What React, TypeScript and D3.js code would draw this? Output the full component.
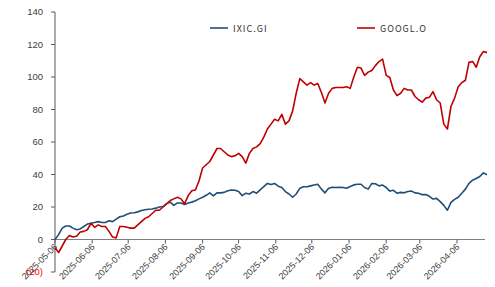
import React from "react";
import * as d3 from "d3";

const dates: string[] = [
  "2025-05-06","2025-05-09","2025-05-12","2025-05-15","2025-05-18","2025-05-21","2025-05-24","2025-05-27","2025-05-30","2025-06-02",
  "2025-06-05","2025-06-08","2025-06-11","2025-06-14","2025-06-17","2025-06-20","2025-06-23","2025-06-26","2025-06-29","2025-07-02",
  "2025-07-05","2025-07-08","2025-07-11","2025-07-14","2025-07-17","2025-07-20","2025-07-23","2025-07-26","2025-07-29","2025-08-01",
  "2025-08-04","2025-08-07","2025-08-10","2025-08-13","2025-08-16","2025-08-19","2025-08-22","2025-08-25","2025-08-28","2025-08-31",
  "2025-09-03","2025-09-06","2025-09-09","2025-09-12","2025-09-15","2025-09-18","2025-09-21","2025-09-24","2025-09-27","2025-09-30",
  "2025-10-03","2025-10-06","2025-10-09","2025-10-12","2025-10-15","2025-10-18","2025-10-21","2025-10-24","2025-10-27","2025-10-30",
  "2025-11-02","2025-11-05","2025-11-08","2025-11-11","2025-11-14","2025-11-17","2025-11-20","2025-11-23","2025-11-26","2025-11-29",
  "2025-12-02","2025-12-05","2025-12-08","2025-12-11","2025-12-14","2025-12-17","2025-12-20","2025-12-23","2025-12-26","2025-12-29",
  "2026-01-01","2026-01-04","2026-01-07","2026-01-10","2026-01-13","2026-01-16","2026-01-19","2026-01-22","2026-01-25","2026-01-28",
  "2026-01-31","2026-02-03","2026-02-06","2026-02-09","2026-02-12","2026-02-15","2026-02-18","2026-02-21","2026-02-24","2026-02-27",
  "2026-03-02","2026-03-05","2026-03-08","2026-03-11","2026-03-14","2026-03-17","2026-03-20","2026-03-23","2026-03-26","2026-03-29",
  "2026-04-01","2026-04-04","2026-04-07","2026-04-10","2026-04-13","2026-04-16","2026-04-19","2026-04-22","2026-04-25","2026-04-28",
  "2026-05-01"
];

const ixic: number[] = [
  0, 3, 7, 8.3, 8.3, 7, 6, 6.5, 8, 9.5,
  10, 10.5, 11, 10.5, 10.5, 11.5, 11, 12.5, 14, 14.5,
  15.5, 16.3, 16.5, 17, 17.8, 18.3, 18.6, 18.8, 19.3, 20,
  20.3, 22, 23, 21, 22.5, 22.5, 21.5, 22.5, 23, 23.8,
  25, 26, 27.2, 28.7, 26.8, 28.7, 28.7, 29, 30, 30.5,
  30.3, 29.5, 27, 28.5, 28, 29.5, 28.5, 30.5, 32.6, 34.5,
  33.8, 34.5, 32.8, 32, 29.5, 28, 26, 28, 31.5, 32.5,
  32.5, 33, 33.5, 34, 31, 28.7, 31.5, 32.2, 32, 32.2,
  32, 31.5, 32.6, 33.6, 34, 34, 32, 31, 34.5, 34.3,
  33, 33.5, 32, 29.8, 30.3, 28.5, 29, 28.7, 29.5, 29.8,
  28.7, 28.5, 27.6, 27.7, 26.6, 24.9, 25.3, 23.3, 21, 18,
  22.8, 24.7, 26, 28.5, 31, 34.5, 36.5, 37.5, 38.8, 41,
  39.8
];

const googl: number[] = [
  -5, -8, -4, 0, 2.5, 1.5, 2, 4.6, 5, 6,
  10, 7.5, 9, 8, 8, 5, 1.5, 1, 8, 8,
  7.5, 7, 7, 9, 11, 13, 14, 16, 18, 18,
  20, 22, 24, 25, 26, 25, 22, 27, 30, 30.5,
  36, 44, 46, 48, 52, 56, 56, 54, 52, 51,
  51.5, 53, 51, 47, 53, 56, 57, 59, 63, 68,
  71, 74, 73, 77, 71, 73, 79, 90, 99, 97,
  95, 96.5, 95, 96, 90.5, 84, 90, 93, 93.5, 93.5,
  93.5, 94, 93, 100, 106, 105.5, 101, 103, 104, 107,
  109.5, 111, 101, 99.7, 92, 88.5, 90, 93, 92, 92,
  88, 86, 84.5, 87, 87.5, 91, 86, 84, 71, 68,
  82, 87, 94, 96.5, 98, 109, 109.6, 106, 112.5, 115.7,
  115
];

const yTicks: number[] = [-20, 0, 20, 40, 60, 80, 100, 120, 140];
const xTickLabels: string[] = [
  "2025-05-06","2025-06-06","2025-07-06","2025-08-06","2025-09-06","2025-10-06",
  "2025-11-06","2025-12-06","2026-01-06","2026-02-06","2026-03-06","2026-04-06"
];
const seriesNames: string[] = ["IXIC.GI", "GOOGL.O"];

const parse = d3.timeParse("%Y-%m-%d");

export default function App() {
  const W = 495, H = 287;
  const left = 55, right = 487, top = 12, bottom = 272;
  const x = d3.scaleTime()
    .domain([parse("2025-05-06") as Date, parse("2026-05-01") as Date])
    .range([left, right]);
  const y = d3.scaleLinear().domain([-20, 140]).range([bottom, top]);
  const pts = dates.map((d) => parse(d) as Date);
  const line = d3.line<number>()
    .x((_, i) => x(pts[i]))
    .y((v) => y(v))
    .curve(d3.curveLinear);
  const y0 = y(0);
  const axisColor = "#595959";
  const font = "'Liberation Sans', Arial, sans-serif";
  const legendFont = "'Noto Sans CJK SC', 'DejaVu Sans', sans-serif";
  const colors = ["#1F4E79", "#C00000"];

  return (
    <svg width={W} height={H} style={{ position: "absolute", left: 0, top: 0 }}>
      <rect width={W} height={H} fill="#fff" />
      {/* y axis */}
      <line x1={left} x2={left} y1={top} y2={bottom} stroke={axisColor} strokeWidth={1} />
      {yTicks.map((t) => (
        <g key={t}>
          <line x1={left - 4} x2={left} y1={y(t)} y2={y(t)} stroke={axisColor} />
          <text
            x={left - 12}
            y={y(t)}
            dy="0.35em"
            textAnchor="end"
            fontSize={9.5}
            fontFamily={font}
            fill={t < 0 ? "#FF0000" : "#404040"}
          >
            {t < 0 ? `(${Math.abs(t)})` : t}
          </text>
        </g>
      ))}
      {/* x axis */}
      <line x1={left} x2={right - 2} y1={y0} y2={y0} stroke={"#808080"} strokeWidth={1.2} />
      {xTickLabels.map((s) => {
        const xx = x(parse(s) as Date);
        return (
          <g key={s}>
            <line x1={xx} x2={xx} y1={y0} y2={y0 + 4} stroke={axisColor} />
            <text
              transform={`translate(${xx + 3},${y0 + 8}) rotate(-45)`}
              textAnchor="end"
              fontSize={9}
              fontFamily={font}
              fill="#404040"
            >
              {s}
            </text>
          </g>
        );
      })}
      {/* lines */}
      <path d={line(ixic) || ""} fill="none" stroke={colors[0]} strokeWidth={1.6} strokeLinejoin="round" />
      <path d={line(googl) || ""} fill="none" stroke={colors[1]} strokeWidth={1.6} strokeLinejoin="round" />
      {/* legend */}
      {[210, 357].map((lx, i) => (
        <g key={seriesNames[i]}>
          <line x1={lx} x2={lx + 18} y1={28} y2={28} stroke={colors[i]} strokeWidth={1.6} />
          <text x={lx + 23} y={31.5} fontSize={9} fontFamily={legendFont} fill="#333" letterSpacing={1}>
            {seriesNames[i]}
          </text>
        </g>
      ))}
    </svg>
  );
}
